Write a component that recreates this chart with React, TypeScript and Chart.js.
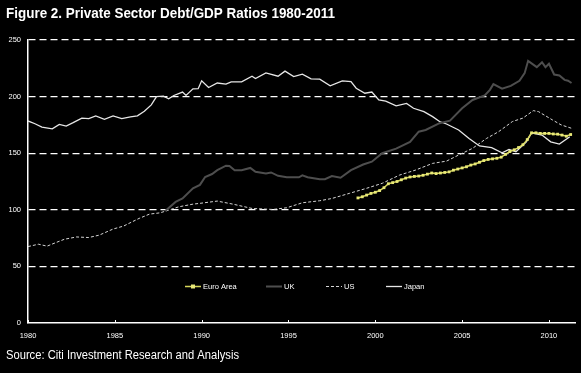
import React, { useEffect, useRef } from "react";
import { Chart, registerables } from "chart.js";

Chart.register(...registerables);

const SANS = "'Liberation Sans', Arial, 'DejaVu Sans', sans-serif";

const TITLE = "Figure 2. Private Sector Debt/GDP Ratios 1980-2011";
const SOURCE = "Source: Citi Investment Research and Analysis";

const X_MIN = 1980;
const X_MAX = 2011.5;
const X_STEP = 5;
const Y_MIN = 0;
const Y_MAX = 250;
const Y_STEP = 50;

const SERIES_NAMES = ["Euro Area", "UK", "US", "Japan"];

const euroYears = [
  1999.0, 1999.25, 1999.5, 1999.75, 2000.0, 2000.25, 2000.5, 2000.75,
  2001.0, 2001.25, 2001.5, 2001.75, 2002.0, 2002.25, 2002.5, 2002.75,
  2003.0, 2003.25, 2003.5, 2003.75, 2004.0, 2004.25, 2004.5, 2004.75,
  2005.0, 2005.25, 2005.5, 2005.75, 2006.0, 2006.25, 2006.5, 2006.75,
  2007.0, 2007.25, 2007.5, 2007.75, 2008.0, 2008.25, 2008.5, 2008.75,
  2009.0, 2009.25, 2009.5, 2009.75, 2010.0, 2010.25, 2010.5, 2010.75,
  2011.0, 2011.25,
];
const euroValues = [
  110.5, 111.5, 113, 114.5, 115.5, 117, 119.5, 123,
  124, 125, 126.5, 128, 129, 129.5, 129.8, 130.5,
  131.5, 132.5, 132, 132.5, 133, 133.5, 135, 136,
  137, 138, 139.5, 140.5, 142, 143.5, 144.5, 145,
  145.5, 146.5, 149, 151.5, 153, 155, 157.5, 162,
  168, 168, 167.5, 167.5, 167.5, 167, 166.8, 166,
  165, 166.5,
];

const ukYears = [
  1987.9, 1988.5, 1988.9, 1989.5, 1989.9, 1990.2, 1990.6, 1990.9, 1991.4, 1991.6,
  1991.9, 1992.3, 1992.8, 1993.1, 1993.7, 1994.0, 1994.4, 1994.9, 1995.6, 1995.8,
  1996.1, 1996.8, 1997.1, 1997.5, 1998.0, 1998.6, 1999.3, 1999.8, 2000.4, 2001.2,
  2002.0, 2002.5, 2002.9, 2003.7, 2004.3, 2005.0, 2005.6, 2006.3, 2006.6, 2006.8,
  2007.3, 2007.8, 2008.3, 2008.6, 2008.8, 2009.3, 2009.6, 2009.8, 2010.0, 2010.3,
  2010.6, 2010.9, 2011.1, 2011.3,
];
const ukValues = [
  99, 107, 110, 119, 122, 129, 131.6, 135, 139, 138.7,
  135, 135, 137, 133.6, 132, 133, 130, 128.7, 128.7, 130.4,
  128.7, 127, 127, 129.8, 128.3, 135, 140, 142.5, 150, 154,
  160, 169, 170.5, 176.5, 178.8, 189.7, 197, 201, 206, 211,
  207, 209.5, 214, 220.7, 231.6, 226, 230.4, 226, 229, 219.5,
  218.6, 214.8, 214, 212,
];

const usYears = [
  1980.0, 1980.6, 1981.1, 1981.6, 1982.1, 1982.8, 1983.5, 1984.1, 1984.9, 1985.5,
  1986.0, 1986.4, 1987.0, 1987.6, 1988.1, 1988.7, 1989.5, 1989.9, 1990.9, 1991.8,
  1992.9, 1994.1, 1994.9, 1995.8, 1996.8, 1997.5, 1998.5, 1999.5, 2000.4, 2001.4,
  2002.3, 2003.3, 2004.1, 2004.8, 2005.6, 2006.4, 2007.1, 2007.9, 2008.5, 2009.1,
  2009.4, 2010.2, 2010.7, 2011.3,
];
const usValues = [
  67.5, 69.6, 67.9, 71, 74, 76, 75.5, 77.6, 83, 85.6,
  89.4, 92.4, 96.2, 97.3, 99.7, 102.7, 105, 105.7, 107.7, 105,
  101.2, 100.3, 101.8, 106.2, 108, 110, 114.5, 119, 123.4, 130.7,
  135, 141, 143, 148.4, 154.3, 163, 169, 178, 181, 187.6,
  186.7, 179.4, 175, 172,
];

const japanYears = [
  1980.0, 1980.4, 1980.8, 1981.4, 1981.8, 1982.2, 1982.6, 1983.1, 1983.5, 1983.9,
  1984.4, 1984.9, 1985.4, 1985.9, 1986.3, 1986.7, 1987.1, 1987.4, 1987.8, 1988.1,
  1988.4, 1988.9, 1989.1, 1989.5, 1989.8, 1990.0, 1990.4, 1990.9, 1991.4, 1991.7,
  1992.3, 1992.9, 1993.1, 1993.7, 1994.4, 1994.8, 1995.3, 1995.8, 1996.3, 1996.8,
  1997.4, 1998.1, 1998.6, 1998.9, 1999.4, 1999.8, 2000.2, 2000.6, 2001.2, 2001.8,
  2002.2, 2002.8, 2003.3, 2003.7, 2004.1, 2004.8, 2005.4, 2006.0, 2006.7, 2007.3,
  2007.7, 2008.1, 2008.7, 2009.0, 2009.6, 2010.1, 2010.6, 2011.2,
];
const japanValues = [
  178.5, 176, 173, 171.5, 175.5, 174, 177, 181, 180.5, 183,
  180, 183, 180.5, 182, 183, 187, 192.7, 200, 200.4, 198,
  201, 204, 201, 206.8, 207, 214, 208, 212, 211, 213,
  213, 218, 216, 221, 218, 222.5, 217.7, 219.8, 215.7, 215.4,
  209.5, 213.9, 213.3, 207.4, 203, 204, 197, 196, 191.8, 194,
  189.7, 186.7, 182.3, 178, 175.8, 170.5, 163, 156.4, 154.9, 150.4,
  153.4, 151.3, 160, 168, 166, 160, 158, 164.5,
];

const toPoints = (xs: number[], ys: number[]) => xs.map((x, i) => ({ x, y: ys[i] }));

const EURO_COLOR = "#d6d65a";
const EURO_POINT = "#e8e878";
const UK_COLOR = "#4e4e4e";
const US_COLOR = "#d4d4d4";
const JAPAN_COLOR = "#e6e6e6";

// legend entry offsets (px from the plot's left edge)
const LEGEND_OFFSETS = [157, 238, 298, 358];

function drawFitted(ctx: CanvasRenderingContext2D, text: string, x: number, y: number, width: number) {
  const w = ctx.measureText(text).width;
  const k = Math.min(1, width / w);
  ctx.save();
  ctx.translate(x, y);
  ctx.scale(k, 1);
  ctx.fillText(text, 0, 0);
  ctx.restore();
}

const decorPlugin = {
  id: "decor",
  beforeDraw(chart: any) {
    const ctx = chart.ctx;
    ctx.save();
    ctx.fillStyle = "#000000";
    ctx.fillRect(0, 0, chart.width, chart.height);
    ctx.restore();
  },
  afterDraw(chart: any) {
    const ctx = chart.ctx;
    const area = chart.chartArea;
    const xScale = chart.scales.x;
    ctx.save();
    ctx.strokeStyle = "#ffffff";
    ctx.lineWidth = 1;
    xScale.ticks.forEach((t: any) => {
      const px = Math.round(xScale.getPixelForValue(t.value)) + 0.5;
      ctx.beginPath();
      ctx.moveTo(px, area.bottom);
      ctx.lineTo(px, area.bottom - 3);
      ctx.stroke();
    });
    ctx.fillStyle = "#ffffff";
    ctx.textBaseline = "middle";
    ctx.textAlign = "left";
    ctx.font = `bold 15px ${SANS}`;
    drawFitted(ctx, TITLE, 6, 14, 329);
    ctx.font = `12.5px ${SANS}`;
    drawFitted(ctx, SOURCE, 6, 356, 233);
    ctx.font = `7.5px ${SANS}`;
    const y = area.bottom - 36.5;
    chart.data.datasets.forEach((ds: any, i: number) => {
      const x = area.left + LEGEND_OFFSETS[i];
      ctx.save();
      ctx.strokeStyle = ds.borderColor;
      ctx.lineWidth = ds.borderWidth;
      ctx.setLineDash(ds.borderDash || []);
      ctx.beginPath();
      ctx.moveTo(x, y);
      ctx.lineTo(x + 16, y);
      ctx.stroke();
      ctx.restore();
      if (ds.pointRadius > 0) {
        ctx.fillStyle = ds.pointBackgroundColor;
        ctx.fillRect(x + 8 - 2, y - 2, 4, 4);
      }
      ctx.fillStyle = "#ffffff";
      ctx.fillText(ds.label, x + 18, y + 0.5);
    });
    ctx.restore();
  },
};

export default function App() {
  const canvasRef = useRef<HTMLCanvasElement | null>(null);

  useEffect(() => {
    document.body.style.margin = "0";
    document.body.style.background = "#000";
    const canvas = canvasRef.current;
    if (!canvas) return;
    const chart = new Chart(canvas, {
      type: "line",
      data: {
        datasets: [
          {
            label: SERIES_NAMES[0],
            data: toPoints(euroYears, euroValues),
            borderColor: EURO_COLOR,
            borderWidth: 1.5,
            pointStyle: "rect",
            pointRadius: 2,
            pointBackgroundColor: EURO_POINT,
            pointBorderWidth: 0,
            tension: 0,
          },
          {
            label: SERIES_NAMES[1],
            data: toPoints(ukYears, ukValues),
            borderColor: UK_COLOR,
            borderWidth: 2,
            pointRadius: 0,
            tension: 0,
          },
          {
            label: SERIES_NAMES[2],
            data: toPoints(usYears, usValues),
            borderColor: US_COLOR,
            borderWidth: 1,
            borderDash: [3, 2],
            pointRadius: 0,
            tension: 0,
          },
          {
            label: SERIES_NAMES[3],
            data: toPoints(japanYears, japanValues),
            borderColor: JAPAN_COLOR,
            borderWidth: 1.3,
            pointRadius: 0,
            tension: 0,
          },
        ],
      } as any,
      options: {
        responsive: false,
        animation: false,
        maintainAspectRatio: false,
        layout: { padding: { top: 40, right: 6, left: 0, bottom: 0 } },
        plugins: { legend: { display: false }, tooltip: { enabled: false }, title: { display: false } },
        scales: {
          x: {
            type: "linear",
            min: X_MIN,
            max: X_MAX,
            afterFit: (s: any) => { s.height = 50; },
            grid: { display: false, drawTicks: false },
            border: { display: true, color: "#ffffff", width: 1.5 },
            ticks: {
              stepSize: X_STEP,
              includeBounds: false,
              autoSkip: false,
              maxRotation: 0,
              color: "#ffffff",
              padding: 8,
              font: { family: SANS, size: 7.5 },
              callback: (v: any) => String(v),
            },
          },
          y: {
            min: Y_MIN,
            max: Y_MAX,
            afterFit: (s: any) => { s.width = 28; },
            grid: {
              drawTicks: false,
              color: (c: any) => (c.tick && c.tick.value === 0 ? "rgba(0,0,0,0)" : "#ffffff"),
              lineWidth: 1.3,
            },
            border: { display: true, color: "#ffffff", width: 1.5, dash: [7, 4] },
            ticks: {
              stepSize: Y_STEP,
              color: "#ffffff",
              padding: 7,
              font: { family: SANS, size: 7.5 },
              callback: (v: any) => String(v),
            },
          },
        },
      } as any,
      plugins: [decorPlugin],
    });
    return () => chart.destroy();
  }, []);

  return (
    <div style={{ width: 581, height: 373, background: "#000" }}>
      <canvas ref={canvasRef} width={581} height={373} style={{ display: "block" }} />
    </div>
  );
}
